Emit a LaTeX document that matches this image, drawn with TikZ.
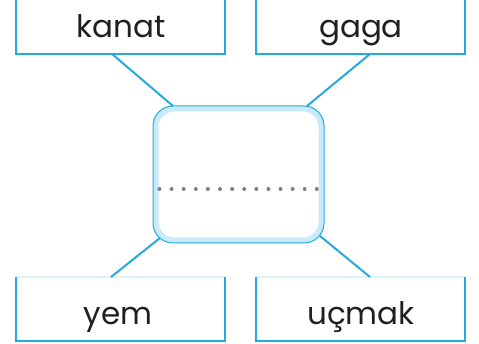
\documentclass[tikz,border=0pt]{standalone}
\usepackage{fontspec}
\setmainfont{Poppins}
\definecolor{lineblue}{RGB}{38,168,224}
\definecolor{bandblue}{RGB}{202,234,249}
\definecolor{dotgray}{RGB}{128,128,128}
\begin{document}
\begin{tikzpicture}[x=1pt,y=-1pt,
	word/.style={anchor=base,font=\fontsize{31}{31}\selectfont,text=black!88},
	frame/.style={lineblue,line width=1.1pt},
	spoke/.style={lineblue,line width=2pt}]
	\useasboundingbox (0,0) rectangle (479,344);
	% label boxes
	\draw[frame] (16,0) -- (16,54) -- (225,54) -- (225,0);
	\draw[frame] (256,0) -- (256,54) -- (465,54) -- (465,0);
	\draw[lineblue!15,line width=1.1pt] (16,277) -- (225,277);
	\draw[lineblue!15,line width=1.1pt] (256,277) -- (465,277);
	\draw[frame] (16,277) -- (16,341) -- (225,341) -- (225,277);
	\draw[frame] (256,277) -- (256,341) -- (465,341) -- (465,277);
	\node[word] (kanat) at (121,38) {kanat};
	\node[word] (gaga) at (361,38) {gaga};
	\node[word] (yem) at (118,325) {yem};
	\node[word] (ucmak) at (361,325) {uçmak};
	\coordinate (tl) at (112,54);
	\coordinate (tr) at (370,54);
	\coordinate (bl) at (111,277);
	\coordinate (br) at (370,277);
	% middle box
	\draw[lineblue,fill=bandblue,line width=1pt,rounded corners=20pt] (153,106) rectangle (324,243);
	\fill[white,rounded corners=16pt] (158.5,111.5) rectangle (318.5,237.5);
	\coordinate (ctl) at (173,106);
	\coordinate (ctr) at (307,106);
	\coordinate (cbl) at (160,238);
	\coordinate (cbr) at (320,236);
	\draw[spoke] (tl) -- (ctl);
	\draw[spoke] (tr) -- (ctr);
	\draw[spoke] (bl) -- (cbl);
	\draw[spoke] (br) -- (cbr);
	\foreach \i in {0,...,13}
	\fill[dotgray] (159.5+12.1*\i,189) circle (2pt);
\end{tikzpicture}
\end{document}
